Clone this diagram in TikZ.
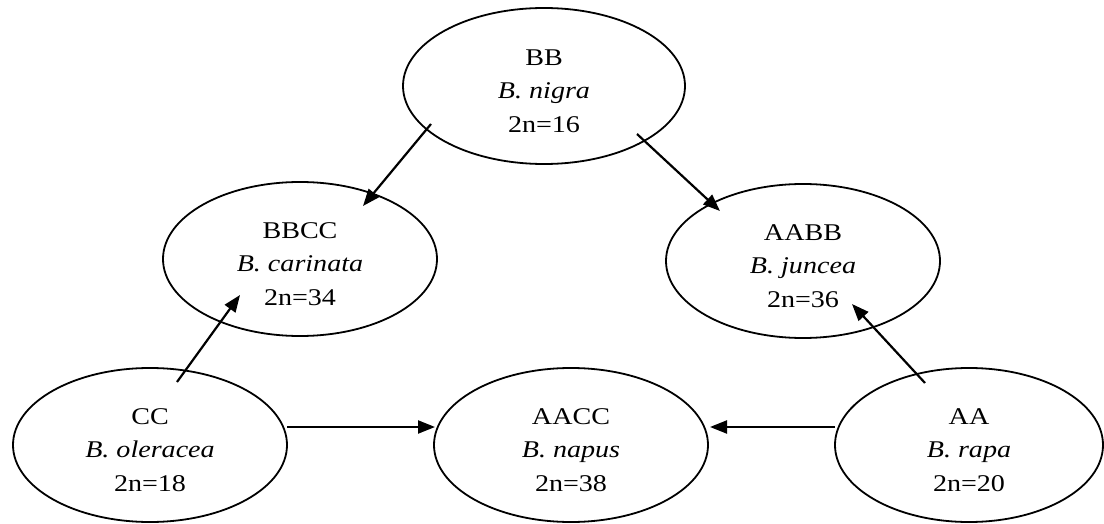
\documentclass[tikz,border=0pt]{standalone}
\usepackage{fontspec}
\setmainfont{Liberation Serif}[FakeStretch=1.17]
\usetikzlibrary{shapes.geometric,arrows.meta,calc}
\begin{document}
\begin{tikzpicture}[x=1pt,y=-1pt,
  sp/.style={ellipse,draw,line width=1.8pt,minimum width=274pt,minimum height=154pt,inner sep=0pt},
  lab/.style={align=center,font=\fontsize{24}{33.5}\selectfont,inner sep=0pt},
  arr/.style={line width=2.2pt,-{Triangle[length=17pt,width=13pt]}}]
\useasboundingbox (0,0) rectangle (1104,524);
% ellipses
\node[sp,minimum width=282pt,minimum height=156pt] (bb) at (544,86) {};
\node[sp] (bbcc) at (300,259) {};
\node[sp] (aabb) at (803,261) {};
\node[sp] (cc) at (150,445) {};
\node[sp] (aacc) at (571,445) {};
\node[sp,minimum width=268pt] (aa) at (969,445) {};
% labels
\node[lab] (bbt) at ($(bb)+(0,5)$) {BB\\\textit{B. nigra}\\2n=16};
\node[lab] (bbcct) at ($(bbcc)+(0,5)$) {BBCC\\\textit{B. carinata}\\2n=34};
\node[lab] (aabbt) at ($(aabb)+(0,5)$) {AABB\\\textit{B. juncea}\\2n=36};
\node[lab] (cct) at ($(cc)+(0,5)$) {CC\\\textit{B. oleracea}\\2n=18};
\node[lab] (aacct) at ($(aacc)+(0,5)$) {AACC\\\textit{B. napus}\\2n=38};
\node[lab] (aat) at ($(aa)+(0,5)$) {AA\\\textit{B. rapa}\\2n=20};
% connector ends
\coordinate (s1) at ($(bb)+(-113,38)$);
\coordinate (e1) at ($(bbcc)+(63,-53)$);
\coordinate (s2) at ($(bb)+(93,48)$);
\coordinate (e2) at ($(aabb)+(-83,-50)$);
\coordinate (s3) at ($(cc)+(27,-63)$);
\coordinate (e3) at ($(bbcc)+(-60,36)$);
\coordinate (s4) at ($(aa)+(-44,-62)$);
\coordinate (e4) at ($(aabb)+(49,43)$);
\coordinate (s5) at ($(cc)+(137,-18)$);
\coordinate (e5) at ($(aacc)+(-136,-18)$);
\coordinate (s6) at ($(aa)+(-134,-18)$);
\coordinate (e6) at ($(aacc)+(139,-18)$);
% connectors
\draw[arr] (s1) -- (e1);
\draw[arr] (s2) -- (e2);
\draw[arr] (s3) -- (e3);
\draw[arr] (s4) -- (e4);
\draw[arr] (s5) -- (e5);
\draw[arr] (s6) -- (e6);
\end{tikzpicture}
\end{document}
